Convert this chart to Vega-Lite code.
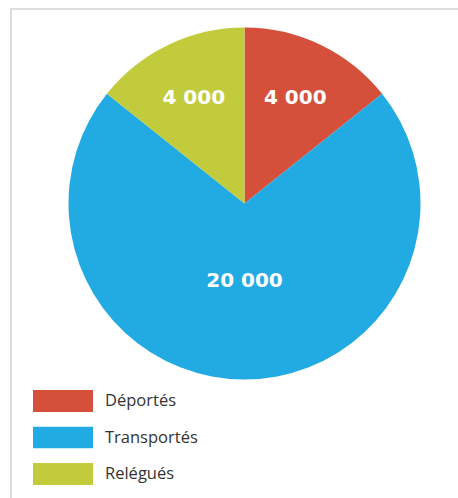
{
  "$schema": "https://vega.github.io/schema/vega-lite/v6.json",
  "width": 450,
  "height": 492,
  "autosize": {"type": "none"},
  "padding": {"left": 11, "top": 9, "right": -3, "bottom": -3},
  "background": "white",
  "view": {"stroke": "#dddddd", "strokeWidth": 2},
  "config": {
    "view": {"stroke": "#dddddd", "strokeWidth": 2},
    "font": "Open Sans",
    "locale": {"number": {"decimal": ",", "thousands": " ", "grouping": [3], "currency": ["", " €"]}}
  },
  "data": {
    "values": [
      {"categorie": "Déportés", "effectif": 4000, "rang": 1},
      {"categorie": "Transportés", "effectif": 20000, "rang": 2},
      {"categorie": "Relégués", "effectif": 4000, "rang": 3}
    ]
  },
  "encoding": {
    "theta": {"field": "effectif", "type": "quantitative", "stack": true},
    "order": {"field": "rang", "type": "quantitative", "sort": "ascending"},
    "color": {
      "field": "categorie",
      "type": "nominal",
      "sort": ["Déportés", "Transportés", "Relégués"],
      "scale": {"domain": ["Déportés", "Transportés", "Relégués"], "range": ["#d5503a", "#22aae2", "#c2cb3c"]},
      "legend": {
        "orient": "none",
        "legendX": 22,
        "legendY": 381,
        "title": null,
        "symbolType": "M-1,-0.3667H1V0.3667H-1Z",
        "symbolSize": 3600,
        "symbolStrokeWidth": 0,
        "symbolOpacity": 1,
        "clipHeight": 22,
        "rowPadding": 14.5,
        "labelFontSize": 16.5,
        "labelColor": "#333333",
        "labelFont": "Open Sans",
        "labelOffset": 12
      }
    }
  },
  "layer": [
    {"mark": {"type": "arc", "radius": 176, "xOffset": 8.5, "yOffset": -51.5}},
    {
      "mark": {"type": "text", "radius": 117, "xOffset": 8.5, "yOffset": -51.5, "fill": "white", "fontSize": 20, "fontWeight": "bold", "font": "DejaVu Sans"},
      "encoding": {"text": {"condition": {"test": "datum.effectif < 10000", "field": "effectif", "type": "quantitative", "format": ","}, "value": ""}}
    },
    {
      "mark": {"type": "text", "radius": 77, "xOffset": 8.5, "yOffset": -51.5, "fill": "white", "fontSize": 20, "fontWeight": "bold", "font": "DejaVu Sans"},
      "encoding": {"text": {"condition": {"test": "datum.effectif >= 10000", "field": "effectif", "type": "quantitative", "format": ","}, "value": ""}}
    }
  ]
}
